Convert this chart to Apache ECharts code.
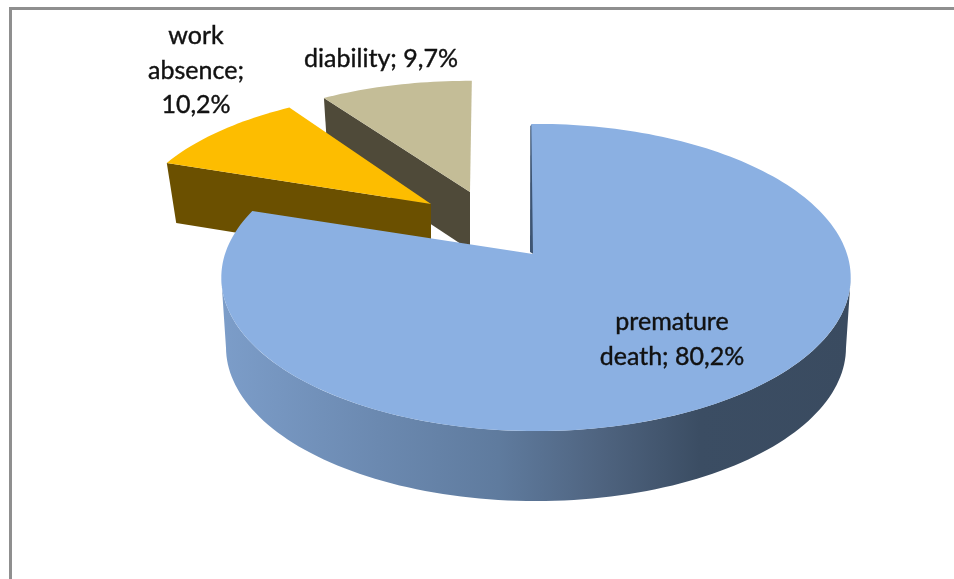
<!DOCTYPE html>
<html>
<head>
<meta charset="utf-8">
<style>html,body{margin:0;padding:0;background:#fff}#c{width:954px;height:579px}</style>
<script src="https://cdn.jsdelivr.net/npm/echarts@6/dist/echarts.min.js"></script>
</head>
<body>
<div id="c"></div>
<script>
const categories = ['premature death', 'work absence', 'diability'];
const values = [80.2, 10.2, 9.7];
const labelLines = [['premature', 'death; 80,2%'], ['work', 'absence;', '10,2%'], ['diability; 9,7%']];

const firstAngle = -1;
const topColors = ['#8BB0E2', '#FDBD00', '#C4BD97'];
const wallColors = [null, '#6B5000', '#4F4A39'];
const apex = [[536, 254], [431, 204], [470, 192]];
const sliceScale = [1, 0.91, 0.87];
const sliceTilt = [[1, 0, 0, 1], [1.042, -0.1235, 0.014, 0.959], [1.072, -0.055, 0.012, 0.982]];
const wallDepth = [70, 60, 58];
const wallScaleX = [0.985, 0.965, 0.975];
const labelPos = [[672, 322], [196, 36], [381, 59]];
const apexShift = [-3, 0, 0];

const R = 311, B = 150, K = 0.153;
const total = values.reduce((a, b) => a + b, 0);

function project(deg, scale, tilt, sx) {
  const t = deg * Math.PI / 180;
  const w = 1 + K * Math.cos(t);
  const x = scale * sx * R * Math.sin(t) / w, y = -scale * B * Math.cos(t) / w;
  return [tilt[0] * x + tilt[1] * y, tilt[2] * x + tilt[3] * y];
}
function arc(a0, a1, cx, cy, scale, dz, tilt, sx) {
  const pts = [], n = Math.max(8, Math.ceil(Math.abs(a1 - a0) / 1.5));
  for (let i = 0; i <= n; i++) {
    const p = project(a0 + (a1 - a0) * i / n, scale, tilt, sx);
    pts.push([cx + p[0], cy + p[1] + dz]);
  }
  return pts;
}

function renderItem(params, api) {
  const idx = api.value(1);
  let before = 0;
  for (let i = 0; i < idx; i++) before += values[i];
  const a0 = firstAngle + before / total * 360;
  const a1 = a0 + api.value(0) / total * 360;
  const [cx, cy] = apex[idx];
  const s = sliceScale[idx], dz = wallDepth[idx], tilt = sliceTilt[idx], wx = wallScaleX[idx];
  const kids = [];
  const A = [cx + apexShift[idx], cy];

  if (idx === 0) {
    const top = arc(99, 261, cx, cy, s, 0, tilt, 1);
    const bot = arc(261, 99, cx, cy, s, dz, tilt, wx);
    kids.push({
      type: 'polygon', shape: { points: top.concat(bot) },
      style: {
        fill: new echarts.graphic.LinearGradient(0, 0, 1, 0, [
          { offset: 0, color: '#7C9DC9' },
          { offset: 0.25, color: '#6B89B0' },
          { offset: 0.44, color: '#5F7B9E' },
          { offset: 0.6, color: '#4F6480' },
          { offset: 0.76, color: '#3B4D63' },
          { offset: 1, color: '#3A4B60' }
        ])
      }
    });
    const e = arc(a0, a0, cx, cy, s, 0, tilt, 1)[0];
    kids.push({
      type: 'polygon',
      shape: { points: [[e[0] - 1, e[1] + 2], [A[0] - 3, A[1] - 2], [A[0] + 2, A[1] + 1], [e[0] + 1, e[1]]] },
      style: { fill: '#3E5573' }
    });
  } else {
    const e = arc(a0, a0, cx, cy, s, 0, tilt, 1)[0];
    const eb = arc(a0, a0, cx, cy, s, dz, tilt, wx)[0];
    kids.push({
      type: 'polygon',
      shape: { points: [A, e, eb, [A[0], A[1] + dz]] },
      style: { fill: wallColors[idx] }
    });
  }
  kids.push({
    type: 'polygon',
    shape: { points: [A].concat(arc(a0, a1, cx, cy, s, 0, tilt, 1)) },
    style: { fill: topColors[idx] }
  });
  labelLines[idx].forEach((line, j) => {
    kids.push({
      type: 'text', z2: 100,
      style: {
        x: labelPos[idx][0], y: labelPos[idx][1] + j * 34.5,
        text: line, align: 'center', verticalAlign: 'middle',
        fill: '#111', stroke: '#111', lineWidth: 0.4,
        font: '25px Lato, "Open Sans", sans-serif'
      }
    });
  });
  return { type: 'group', children: kids };
}

const order = [2, 1, 0];
const chart = echarts.init(document.getElementById('c'));
chart.setOption({
  animation: false,
  backgroundColor: '#fff',
  graphic: [
    { type: 'rect', shape: { x: 9, y: 7, width: 945, height: 3 }, style: { fill: '#8F8F8F' }, silent: true },
    { type: 'rect', shape: { x: 9, y: 7, width: 3, height: 572 }, style: { fill: '#8F8F8F' }, silent: true }
  ],
  series: [{
    type: 'custom',
    coordinateSystem: 'none',
    renderItem,
    silent: true,
    data: order.map(i => ({ name: categories[i], value: [values[i], i] }))
  }]
});
</script>
</body>
</html>
